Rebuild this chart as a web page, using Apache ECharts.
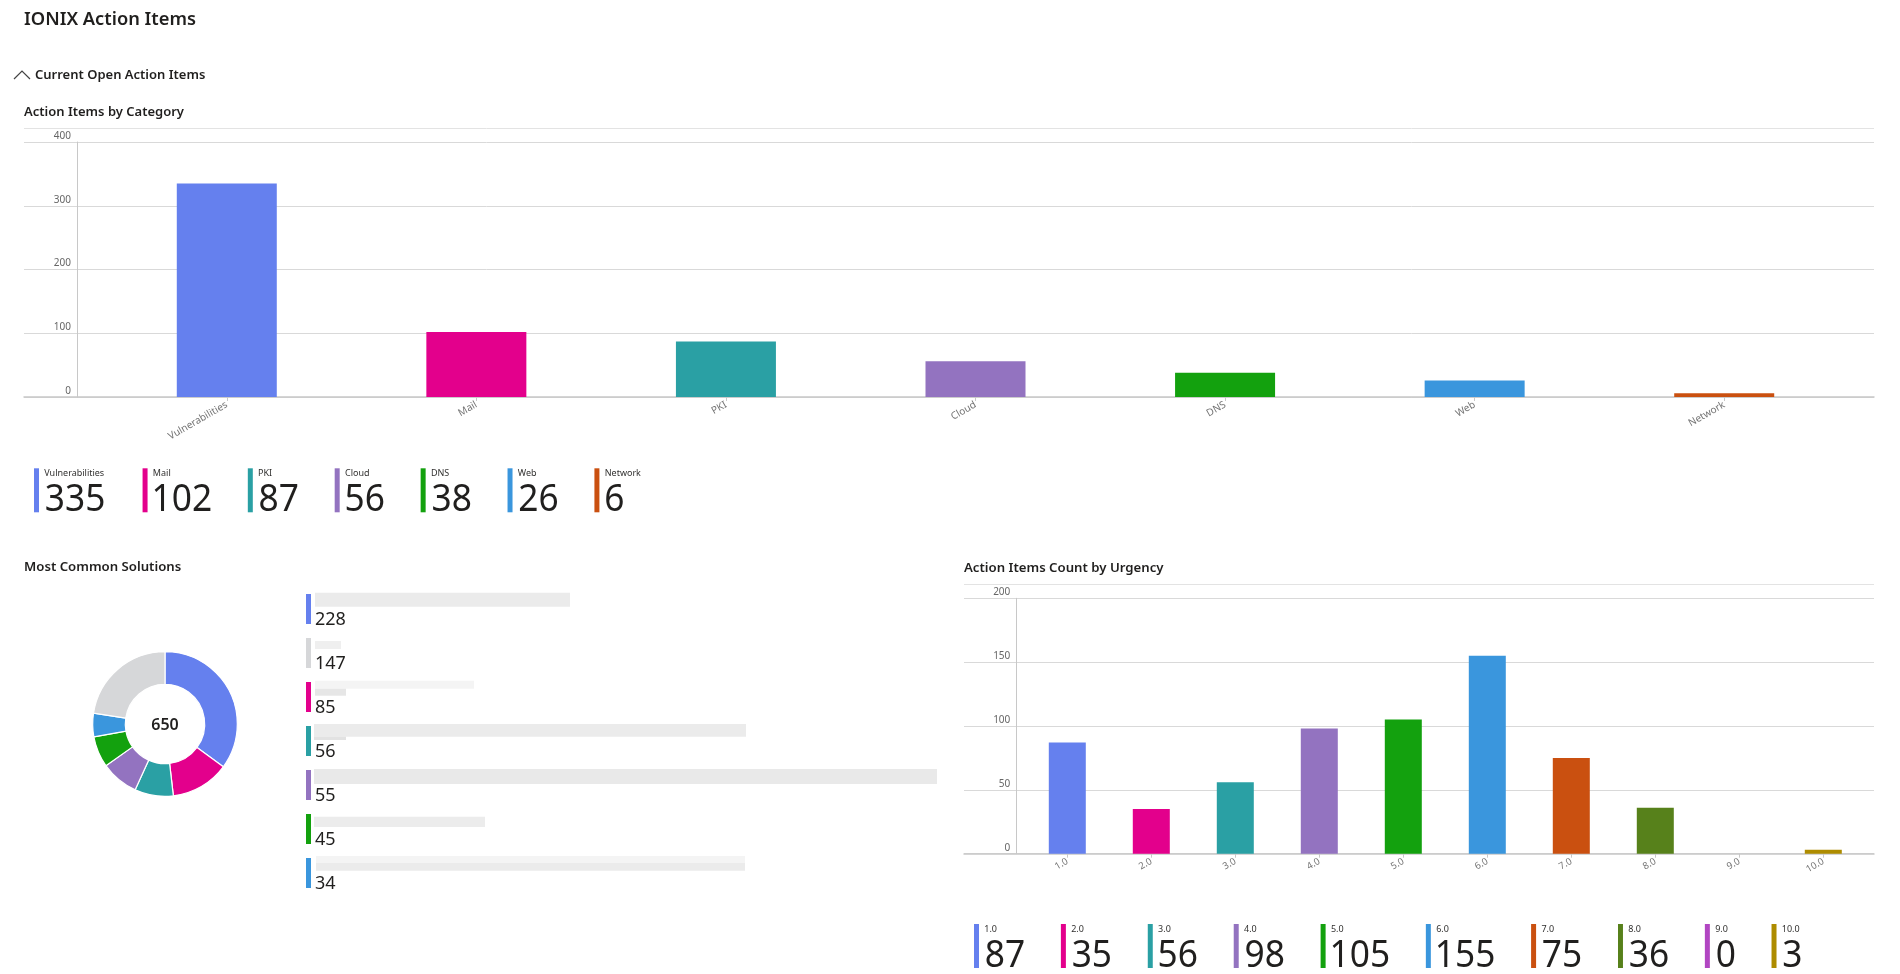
<!DOCTYPE html>
<html>
<head>
<meta charset="utf-8">
<script src="https://cdn.jsdelivr.net/npm/echarts@6/dist/echarts.min.js"></script>
<style>
html,body{margin:0;padding:0;background:#fff;}
#chart{width:1900px;height:974px;}
</style>
</head>
<body>
<div id="chart"></div>
<script>
// ---------------- DATA ----------------
const categories = ['Vulnerabilities', 'Mail', 'PKI', 'Cloud', 'DNS', 'Web', 'Network'];
const categoryCounts = [335, 102, 87, 56, 38, 26, 6];
const categoryTicks = [0, 100, 200, 300, 400];

const urgencyLevels = ['1.0', '2.0', '3.0', '4.0', '5.0', '6.0', '7.0', '8.0', '9.0', '10.0'];
const urgencyCounts = [87, 35, 56, 98, 105, 155, 75, 36, 0, 3];
const urgencyTicks = [0, 50, 100, 150, 200];

// solution labels are redacted in the source
const solutionNames = ['Solution 1', 'Other', 'Solution 2', 'Solution 3', 'Solution 4', 'Solution 5', 'Solution 6'];
const solutionCounts = [228, 147, 85, 56, 55, 45, 34];

// ---------------- STYLE ----------------
const FF = '"Noto Sans", "Open Sans", sans-serif';
const TXT = '#201f1e';
const catColors = ['#6580ee', '#e3008c', '#2aa0a4', '#9373c0', '#13a10e', '#3a96dd', '#ca5010'];
const urgColors = ['#6580ee', '#e3008c', '#2aa0a4', '#9373c0', '#13a10e', '#3a96dd', '#ca5010', '#57811b', '#b146c2', '#ae8c00'];
const solColors = ['#6580ee', '#d6d7d9', '#e3008c', '#2aa0a4', '#9373c0', '#13a10e', '#3a96dd'];
// placeholder blocks standing in for the blurred (redacted) solution labels: [dx, dy, w, h, color]
const blurBlocks = [
  [[0, -1.3, 255, 14, '#ebebeb']],
  [[0, 3, 26, 8, '#efefef']],
  [[0, -1.3, 159, 8, '#f4f4f4'], [0, 6.7, 31, 7, '#e6e6e6']],
  [[-1, -2, 432, 12.7, '#ebebeb'], [-1, 10.7, 32, 3.3, '#e2e2e2']],
  [[-1, -1, 623, 15, '#e9e9e9']],
  [[-1, 2.7, 171, 10.3, '#ececec']],
  [[1, -2, 429, 7, '#f4f4f4'], [1, 5, 429, 7.7, '#ebebeb']]
];

const measureCtx = document.createElement('canvas').getContext('2d');
function ink(t, size, weight) {
  measureCtx.font = (weight || 400) + ' ' + size + 'px ' + FF;
  const m = measureCtx.measureText(t);
  return { left: m.actualBoundingBoxLeft, right: m.actualBoundingBoxRight, adv: m.width };
}

function label(text, x, y, size, weight, color, extra, align) {
  return Object.assign({
    type: 'text', x: x, y: y, silent: true,
    style: { text: text, x: 0, y: 0, fontSize: size, fontWeight: weight || 400, fontFamily: FF,
             fill: color || TXT, align: align || 'left', verticalAlign: 'middle' }
  }, extra || {});
}

const NUM_SIZE = 38, NUM_SX = 0.93, LAB_SIZE = 9;
function kpiRow(x0, yTop, names, values, colors) {
  const els = [];
  let x = x0;
  names.forEach((n, i) => {
    const v = String(values[i]);
    const m = ink(v, NUM_SIZE);
    const numInkW = (m.left + m.right) * NUM_SX;
    const lm = ink(n, LAB_SIZE);
    const labW = lm.left + lm.right;
    els.push({ type: 'rect', silent: true, shape: { x: x, y: yTop, width: 5, height: 44 }, style: { fill: colors[i] } });
    els.push(label(n, x + 10.3, yTop + 5.6, LAB_SIZE, 400, '#323130'));
    els.push(label(v, x + 11.7 + m.left * NUM_SX, yTop + 32, NUM_SIZE, 400, TXT, { scaleX: NUM_SX }));
    x += 11.7 + Math.max(numInkW, labW) + 37.3;
  });
  return els;
}

function solutionList(x0, y0, step) {
  const els = [];
  solutionCounts.forEach((v, i) => {
    const y = y0 + step * i;
    els.push({ type: 'rect', silent: true, shape: { x: x0, y: y, width: 5, height: 30 }, style: { fill: solColors[i] } });
    (blurBlocks[i] || []).forEach(b => {
      els.push({ type: 'rect', silent: true, shape: { x: x0 + 9 + b[0], y: y + b[1], width: b[2], height: b[3] }, style: { fill: b[4] } });
    });
    els.push(label(String(v), x0 + 9, y + 26, 18, 400, TXT));
  });
  return els;
}

// pie order: named solutions first, "Other" last
const idx = solutionNames.map((n, i) => i);
const pieOrder = idx.filter(i => solutionNames[i] !== 'Other').concat(idx.filter(i => solutionNames[i] === 'Other'));
const pieData = pieOrder.map(i => ({ name: solutionNames[i], value: solutionCounts[i], itemStyle: { color: solColors[i] } }));
const solutionTotal = solutionCounts.reduce((a, b) => a + b, 0);

const PIE_CX = 165, PIE_CY = 724;

const graphics = [
  label('IONIX Action Items', 24, 20, 18.3, 600, TXT),
  { type: 'polyline', silent: true, shape: { points: [[14, 79], [22, 71], [30, 79]] }, style: { stroke: '#444', lineWidth: 1.2, fill: null } },
  label('Current Open Action Items', 35, 75, 13, 600, TXT),
  label('Action Items by Category', 24, 112, 13, 600, TXT),
  { type: 'line', silent: true, shape: { x1: 24, y1: 128.5, x2: 1874, y2: 128.5 }, style: { stroke: '#e3e3e3', lineWidth: 1 } },
  label('Most Common Solutions', 24, 567.5, 13.2, 600, TXT),
  label('Action Items Count by Urgency', 964, 567.8, 13.2, 600, TXT),
  { type: 'line', silent: true, shape: { x1: 964, y1: 584.5, x2: 1874, y2: 584.5 }, style: { stroke: '#e3e3e3', lineWidth: 1 } },
  label(String(solutionTotal), PIE_CX, PIE_CY + 1, 16, 600, TXT, null, 'center')
].concat(kpiRow(34, 468.3, categories, categoryCounts, catColors))
 .concat(kpiRow(974, 924, urgencyLevels, urgencyCounts, urgColors))
 .concat(solutionList(306, 594, 44));

function bgAxes(gi, max, interval) {
  return {
    x: { gridIndex: gi, type: 'value', min: 0, max: 1, axisLine: { show: true, onZero: false, lineStyle: { color: '#c8c8c8', width: 1.5 } },
         axisTick: { show: false }, axisLabel: { show: false }, splitLine: { show: false } },
    y: { gridIndex: gi, type: 'value', min: 0, max: max, interval: interval, axisLine: { show: false }, axisTick: { show: false },
         axisLabel: { show: false }, splitLine: { show: true, lineStyle: { color: '#d9d9d9', width: 1 } } }
  };
}
function mainAxes(gi, cats, max, interval, offset, labelSize) {
  return {
    x: { gridIndex: gi, type: 'category', data: cats, axisLine: { show: false },
         axisTick: { show: true, alignWithLabel: true, length: 4, lineStyle: { color: '#c8c8c8' } },
         axisLabel: { rotate: 30, fontSize: labelSize, color: '#737373', margin: 7, fontFamily: FF, interval: 0 },
         splitLine: { show: false } },
    y: { gridIndex: gi, type: 'value', min: 0, max: max, interval: interval, offset: offset,
         axisLine: { show: true, lineStyle: { color: '#c8c8c8' } }, axisTick: { show: false }, splitLine: { show: false },
         axisLabel: { fontSize: 10, color: '#666', fontFamily: FF, verticalAlign: 'bottom', margin: 6, lineHeight: 12 } }
  };
}
const catMax = categoryTicks[categoryTicks.length - 1], catInt = categoryTicks[1] - categoryTicks[0];
const urgMax = urgencyTicks[urgencyTicks.length - 1], urgInt = urgencyTicks[1] - urgencyTicks[0];
const a0 = bgAxes(0, catMax, catInt), a1 = mainAxes(1, categories, catMax, catInt, 25, 10);
const a2 = bgAxes(2, urgMax, urgInt), a3 = mainAxes(3, urgencyLevels, urgMax, urgInt, 9, 9.5);

const option = {
  backgroundColor: '#fff',
  animation: false,
  textStyle: { fontFamily: FF },
  grid: [
    { left: 24, right: 26, top: 142, bottom: 974 - 397, outerBoundsMode: 'none' },
    { left: 102, right: 51, top: 142, bottom: 974 - 397, outerBoundsMode: 'none' },
    { left: 964, right: 26, top: 598.3, bottom: 974 - 853.7, outerBoundsMode: 'none' },
    { left: 1025.3, right: 1900 - 1865.3, top: 598.3, bottom: 974 - 853.7, outerBoundsMode: 'none' }
  ],
  xAxis: [a0.x, a1.x, a2.x, a3.x],
  yAxis: [a0.y, a1.y, a2.y, a3.y],
  series: [
    { type: 'bar', xAxisIndex: 1, yAxisIndex: 1, barWidth: 100, silent: true,
      data: categoryCounts.map((v, i) => ({ value: v, itemStyle: { color: catColors[i] } })) },
    { type: 'bar', xAxisIndex: 3, yAxisIndex: 3, barWidth: 37, silent: true,
      data: urgencyCounts.map((v, i) => ({ value: v, itemStyle: { color: urgColors[i] } })) },
    { type: 'pie', center: [PIE_CX, PIE_CY], radius: [39.7, 72.3], startAngle: 90, clockwise: true, silent: true,
      label: { show: false }, labelLine: { show: false }, emphasis: { disabled: true },
      itemStyle: { borderColor: '#fff', borderWidth: 1.2 }, data: pieData }
  ],
  graphic: graphics
};
const chart = echarts.init(document.getElementById('chart'), null, { renderer: 'canvas' });
chart.setOption(option);
</script>
</body>
</html>
